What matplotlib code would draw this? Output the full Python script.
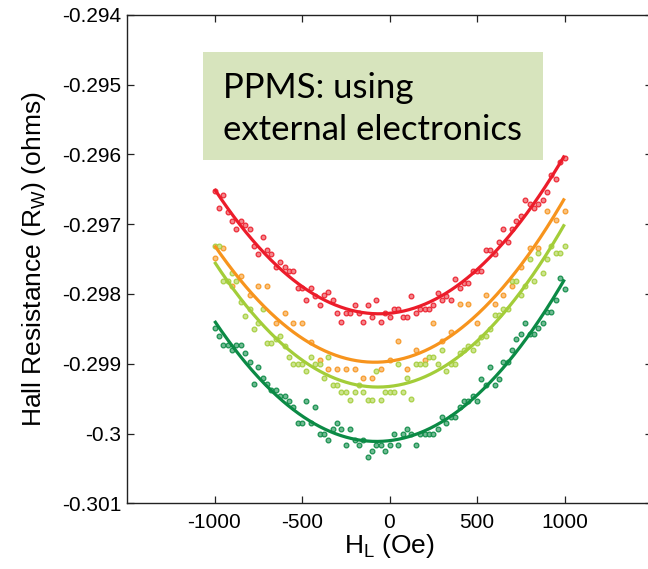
import matplotlib
import numpy as np

matplotlib.use("Agg")
import matplotlib.pyplot as plt
from matplotlib.patches import Rectangle

# field sweep positions (Oe)
field_25 = np.arange(-1000, 1001, 25)
field_50 = np.arange(-1000, 1001, 50)

red_vals = [
    -0.29653, -0.29677, -0.29659, -0.29683, -0.29695, -0.29707, -0.29695, -0.29701, -0.29707,
    -0.29731, -0.29743, -0.29719, -0.29737, -0.29743, -0.29761, -0.29755, -0.29761, -0.29767,
    -0.29767, -0.29791, -0.29791, -0.29809, -0.29791, -0.29803, -0.29816, -0.29802, -0.29797,
    -0.29809, -0.29828, -0.29840, -0.29828, -0.29828, -0.29816, -0.29828, -0.29840, -0.29816,
    -0.29833, -0.29809, -0.29840, -0.29828, -0.29833, -0.29821, -0.29821, -0.29833, -0.29833,
    -0.29803, -0.29827, -0.29821, -0.29821, -0.29821, -0.29816, -0.29798, -0.29809, -0.29803,
    -0.29809, -0.29779, -0.29791, -0.29785, -0.29785, -0.29767, -0.29767, -0.29767, -0.29737,
    -0.29737, -0.29743, -0.29725, -0.29707, -0.29725, -0.29707, -0.29695, -0.29689, -0.29665,
    -0.29671, -0.29677, -0.29671, -0.29665, -0.29654, -0.29629, -0.29635, -0.29611, -0.29605,
]
orange_vals = [
    -0.29748, -0.29734, -0.29788, -0.29774, -0.29801, -0.29788, -0.29788, -0.29842, -0.29828,
    -0.29842, -0.29842, -0.29869, -0.29895, -0.29908, -0.29908, -0.29908, -0.29908, -0.29921,
    -0.29921, -0.29908, -0.29895, -0.29868, -0.29908, -0.29881, -0.29895, -0.29841, -0.29868,
    -0.29854, -0.29814, -0.29814, -0.29841, -0.29802, -0.29814, -0.29802, -0.29788, -0.29761,
    -0.29734, -0.29734, -0.29681, -0.29694, -0.29681,
]
lime_vals = [
    -0.29731, -0.29731, -0.29782, -0.29782, -0.29770, -0.29782, -0.29811, -0.29831, -0.29821,
    -0.29851, -0.29842, -0.29821, -0.29871, -0.29871, -0.29865, -0.29861, -0.29875, -0.29891,
    -0.29901, -0.29901, -0.29901, -0.29911, -0.29891, -0.29901, -0.29901, -0.29921, -0.29891,
    -0.29931, -0.29931, -0.29941, -0.29941, -0.29952, -0.29941, -0.29931, -0.29941, -0.29952,
    -0.29952, -0.29911, -0.29952, -0.29941, -0.29941, -0.29941, -0.29901, -0.29941, -0.29921,
    -0.29951, -0.29901, -0.29901, -0.29901, -0.29891, -0.29891, -0.29901, -0.29881, -0.29911,
    -0.29901, -0.29901, -0.29885, -0.29881, -0.29875, -0.29881, -0.29871, -0.29862, -0.29860,
    -0.29850, -0.29830, -0.29830, -0.29821, -0.29821, -0.29781, -0.29781, -0.29802, -0.29788,
    -0.29750, -0.29781, -0.29741, -0.29770, -0.29750, -0.29731, -0.29741, -0.29741, -0.29731,
]
green_vals = [
    -0.29849, -0.29860, -0.29873, -0.29873, -0.29881, -0.29873, -0.29873, -0.29885, -0.29898,
    -0.29929, -0.29905, -0.29921, -0.29929, -0.29938, -0.29938, -0.29946, -0.29946, -0.29953,
    -0.29962, -0.29985, -0.29985, -0.29953, -0.29985, -0.29962, -0.30001, -0.30001, -0.30009,
    -0.29994, -0.29985, -0.29994, -0.30017, -0.29994, -0.30009, -0.30017, -0.30009, -0.30033,
    -0.30025, -0.30017, -0.30017, -0.30025, -0.30017, -0.30001, -0.30017, -0.30001, -0.29994,
    -0.30001, -0.30017, -0.30001, -0.30001, -0.30001, -0.30001, -0.29994, -0.29977, -0.29985,
    -0.29977, -0.29977, -0.29962, -0.29953, -0.29953, -0.29946, -0.29953, -0.29922, -0.29930,
    -0.29905, -0.29930, -0.29922, -0.29898, -0.29898, -0.29881, -0.29865, -0.29857, -0.29841,
    -0.29857, -0.29857, -0.29849, -0.29841, -0.29826, -0.29826, -0.29809, -0.29777, -0.29793,
]

series = [
    (field_25, red_vals, "#ec1c2a", "#f27a80"),
    (field_50, orange_vals, "#f7941d", "#f9bd75"),
    (field_25, lime_vals, "#a3cd39", "#c8e285"),
    (field_25, green_vals, "#0b8a45", "#62b487"),
]

x_ticks = [-1000, -500, 0, 500, 1000]
y_ticks = [-0.301, -0.3, -0.299, -0.298, -0.297, -0.296, -0.295, -0.294]
y_tick_labels = ["-0.301", "-0.3", "-0.299", "-0.298", "-0.297", "-0.296", "-0.295", "-0.294"]

plt.rcParams["font.family"] = ["Liberation Sans", "DejaVu Sans"]
plt.rcParams["axes.unicode_minus"] = False

fig = plt.figure(figsize=(6.48, 5.69), dpi=100)
ax = fig.add_axes([127 / 648, 65.7 / 569, 525 / 648, 488.6 / 569])

x_dense = np.linspace(-1000, 1000, 400)
for fx, vals, color, light in series:
    fx = np.asarray(fx, dtype=float)
    vals = np.asarray(vals, dtype=float)
    coeffs = np.polyfit(fx, vals, 2)
    ax.plot(fx, vals, "o", ms=3.4, mfc=light, mec=color, mew=0.9, alpha=0.9, zorder=2)
    ax.plot(x_dense, np.polyval(coeffs, x_dense), color=color, lw=2.3, zorder=3,
            solid_capstyle="butt")

ax.set_xlim(-1500, 1500)
ax.set_ylim(-0.301, -0.294)
ax.set_xticks(x_ticks)
ax.set_xticklabels([str(t) for t in x_ticks])
ax.set_yticks(y_ticks)
ax.set_yticklabels(y_tick_labels)
ax.tick_params(direction="in", length=5, width=0.9, labelsize=15, top=True, right=True,
               color="#222222")
ax.tick_params(axis="x", pad=7)
ax.tick_params(axis="y", pad=4)
for sp in ax.spines.values():
    sp.set_linewidth(1.0)
    sp.set_color("#222222")

ax.set_xlabel(r"H$_\mathregular{L}$ (Oe)", fontsize=19, labelpad=0)
ax.set_ylabel(r"Hall Resistance (R$_\mathregular{W}$) (ohms)", fontsize=19, labelpad=10)

fig.patches.append(Rectangle((203 / 648, 1 - 160 / 569), 340 / 648, 108 / 569,
                             transform=fig.transFigure, facecolor="#d7e4bd",
                             edgecolor="none", zorder=5))
fig.text(223 / 648, 1 - 98 / 569, "PPMS: using", fontsize=25, family="Lato",
         va="baseline", ha="left", zorder=6)
fig.text(223 / 648, 1 - 140 / 569, "external electronics", fontsize=25, family="Lato",
         va="baseline", ha="left", zorder=6)

fig.savefig("out.png", dpi=100)
